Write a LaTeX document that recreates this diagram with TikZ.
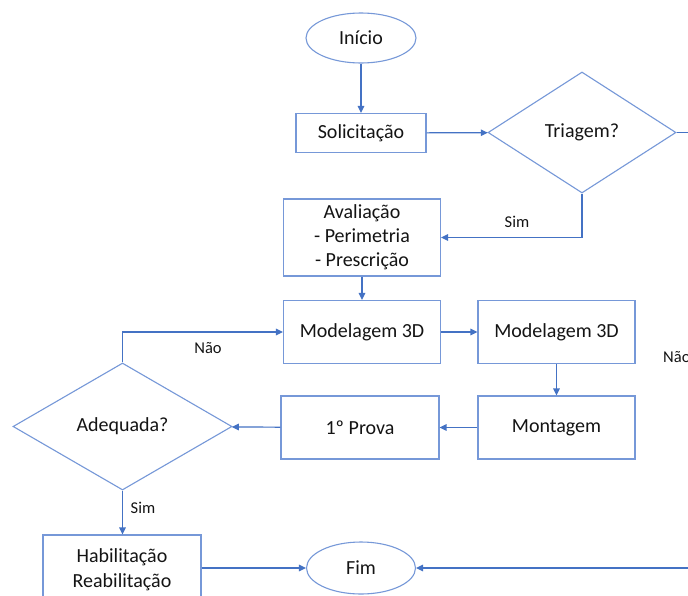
\documentclass[tikz,border=0pt]{standalone}
\usepackage{fontspec}
\setmainfont{Carlito}
\usetikzlibrary{shapes.geometric,arrows.meta}
\definecolor{shapeline}{RGB}{118,152,216}
\definecolor{flowline}{RGB}{68,114,196}
\definecolor{txt}{RGB}{20,20,20}
\tikzset{
  every node/.style={text=txt},
  boxnode/.style={draw=shapeline,line width=1.1pt,rectangle,inner sep=0pt,
    font=\fontsize{20}{24}\selectfont,align=center},
  termnode/.style={draw=shapeline,line width=1.1pt,ellipse,inner sep=0pt,
    font=\fontsize{20}{24}\selectfont},
  decnode/.style={draw=shapeline,line width=1.1pt,diamond,inner sep=0pt,
    font=\fontsize{20}{24}\selectfont},
  lbl/.style={font=\fontsize{16.5}{20}\selectfont,inner sep=0pt},
  flow/.style={draw=flowline,line width=1.2pt},
  arr/.style={flow,-{Triangle[length=7pt,width=6.5pt]}},
}
\begin{document}
\begin{tikzpicture}[x=1pt,y=-1pt]
\useasboundingbox (0,0) rectangle (688,595);
\clip (0,0) rectangle (688,595);
\fill[white] (0,0) rectangle (688,595);

% terminals
\node[termnode,minimum width=110pt,minimum height=50pt] (inicio) at (361,38) {Início};
\node[termnode,minimum width=109pt,minimum height=52pt] (fim) at (361,568) {Fim};

% process boxes
\node[boxnode,minimum width=130pt,minimum height=39pt] (solic) at (361,133) {Solicitação};
\node[boxnode,minimum width=157pt,minimum height=77pt] (aval) at (362,237.5)
  {Avaliação\\- Perimetria\\- Prescrição};
\node[boxnode,minimum width=157pt,minimum height=63pt] (mod1) at (362,332) {Modelagem 3D};
\node[boxnode,minimum width=157pt,minimum height=63pt] (mod2) at (556.5,332) {Modelagem 3D};
\node[boxnode,minimum width=157pt,minimum height=63pt] (mont) at (556.5,427.5) {Montagem};
\node[boxnode,minimum width=158pt,minimum height=63pt] (prova) at (360,427.5) {1º Prova};
\node[boxnode,font=\fontsize{20}{25}\selectfont,minimum width=158pt,minimum height=69pt]
  (hab) at (122,569.5) {Habilitação\\Reabilitação};

% decisions
\node[decnode,minimum width=188pt,minimum height=121pt] (triagem) at (582,132.5) {Triagem?};
\node[decnode,minimum width=219pt,minimum height=127pt] (adeq) at (122.5,426.5) {Adequada?};

% loose ends running off the right edge
\coordinate (outR) at (700,132.5);
\coordinate (inR) at (700,568);

% connectors
\draw[arr] (inicio) -- (solic);
\draw[arr] (solic) -- (triagem);
\draw[flow] (triagem.east) -- (outR);
\draw[arr] (triagem.south) |- (aval.east);
\draw[arr] (aval) -- (mod1);
\draw[arr] (mod1) -- (mod2);
\draw[arr] (mod2) -- (mont);
\draw[arr] (mont) -- (prova);
\draw[arr] (prova) -- (adeq);
\draw[arr] (adeq.north) |- (mod1.west);
\draw[arr] (adeq.south) -- (hab.north -| adeq.south);
\draw[arr] (fim.west -| hab.east) -- (fim.west);
\draw[arr] (inR) -- (fim.east);

% branch labels
\node[lbl] (simA) at (517,222) {Sim};
\node[lbl] (naoA) at (208,348) {Não};
\node[lbl] (simB) at (143,508) {Sim};
\node[lbl,anchor=west] (naoB) at (663,357) {Não};
\end{tikzpicture}
\end{document}
